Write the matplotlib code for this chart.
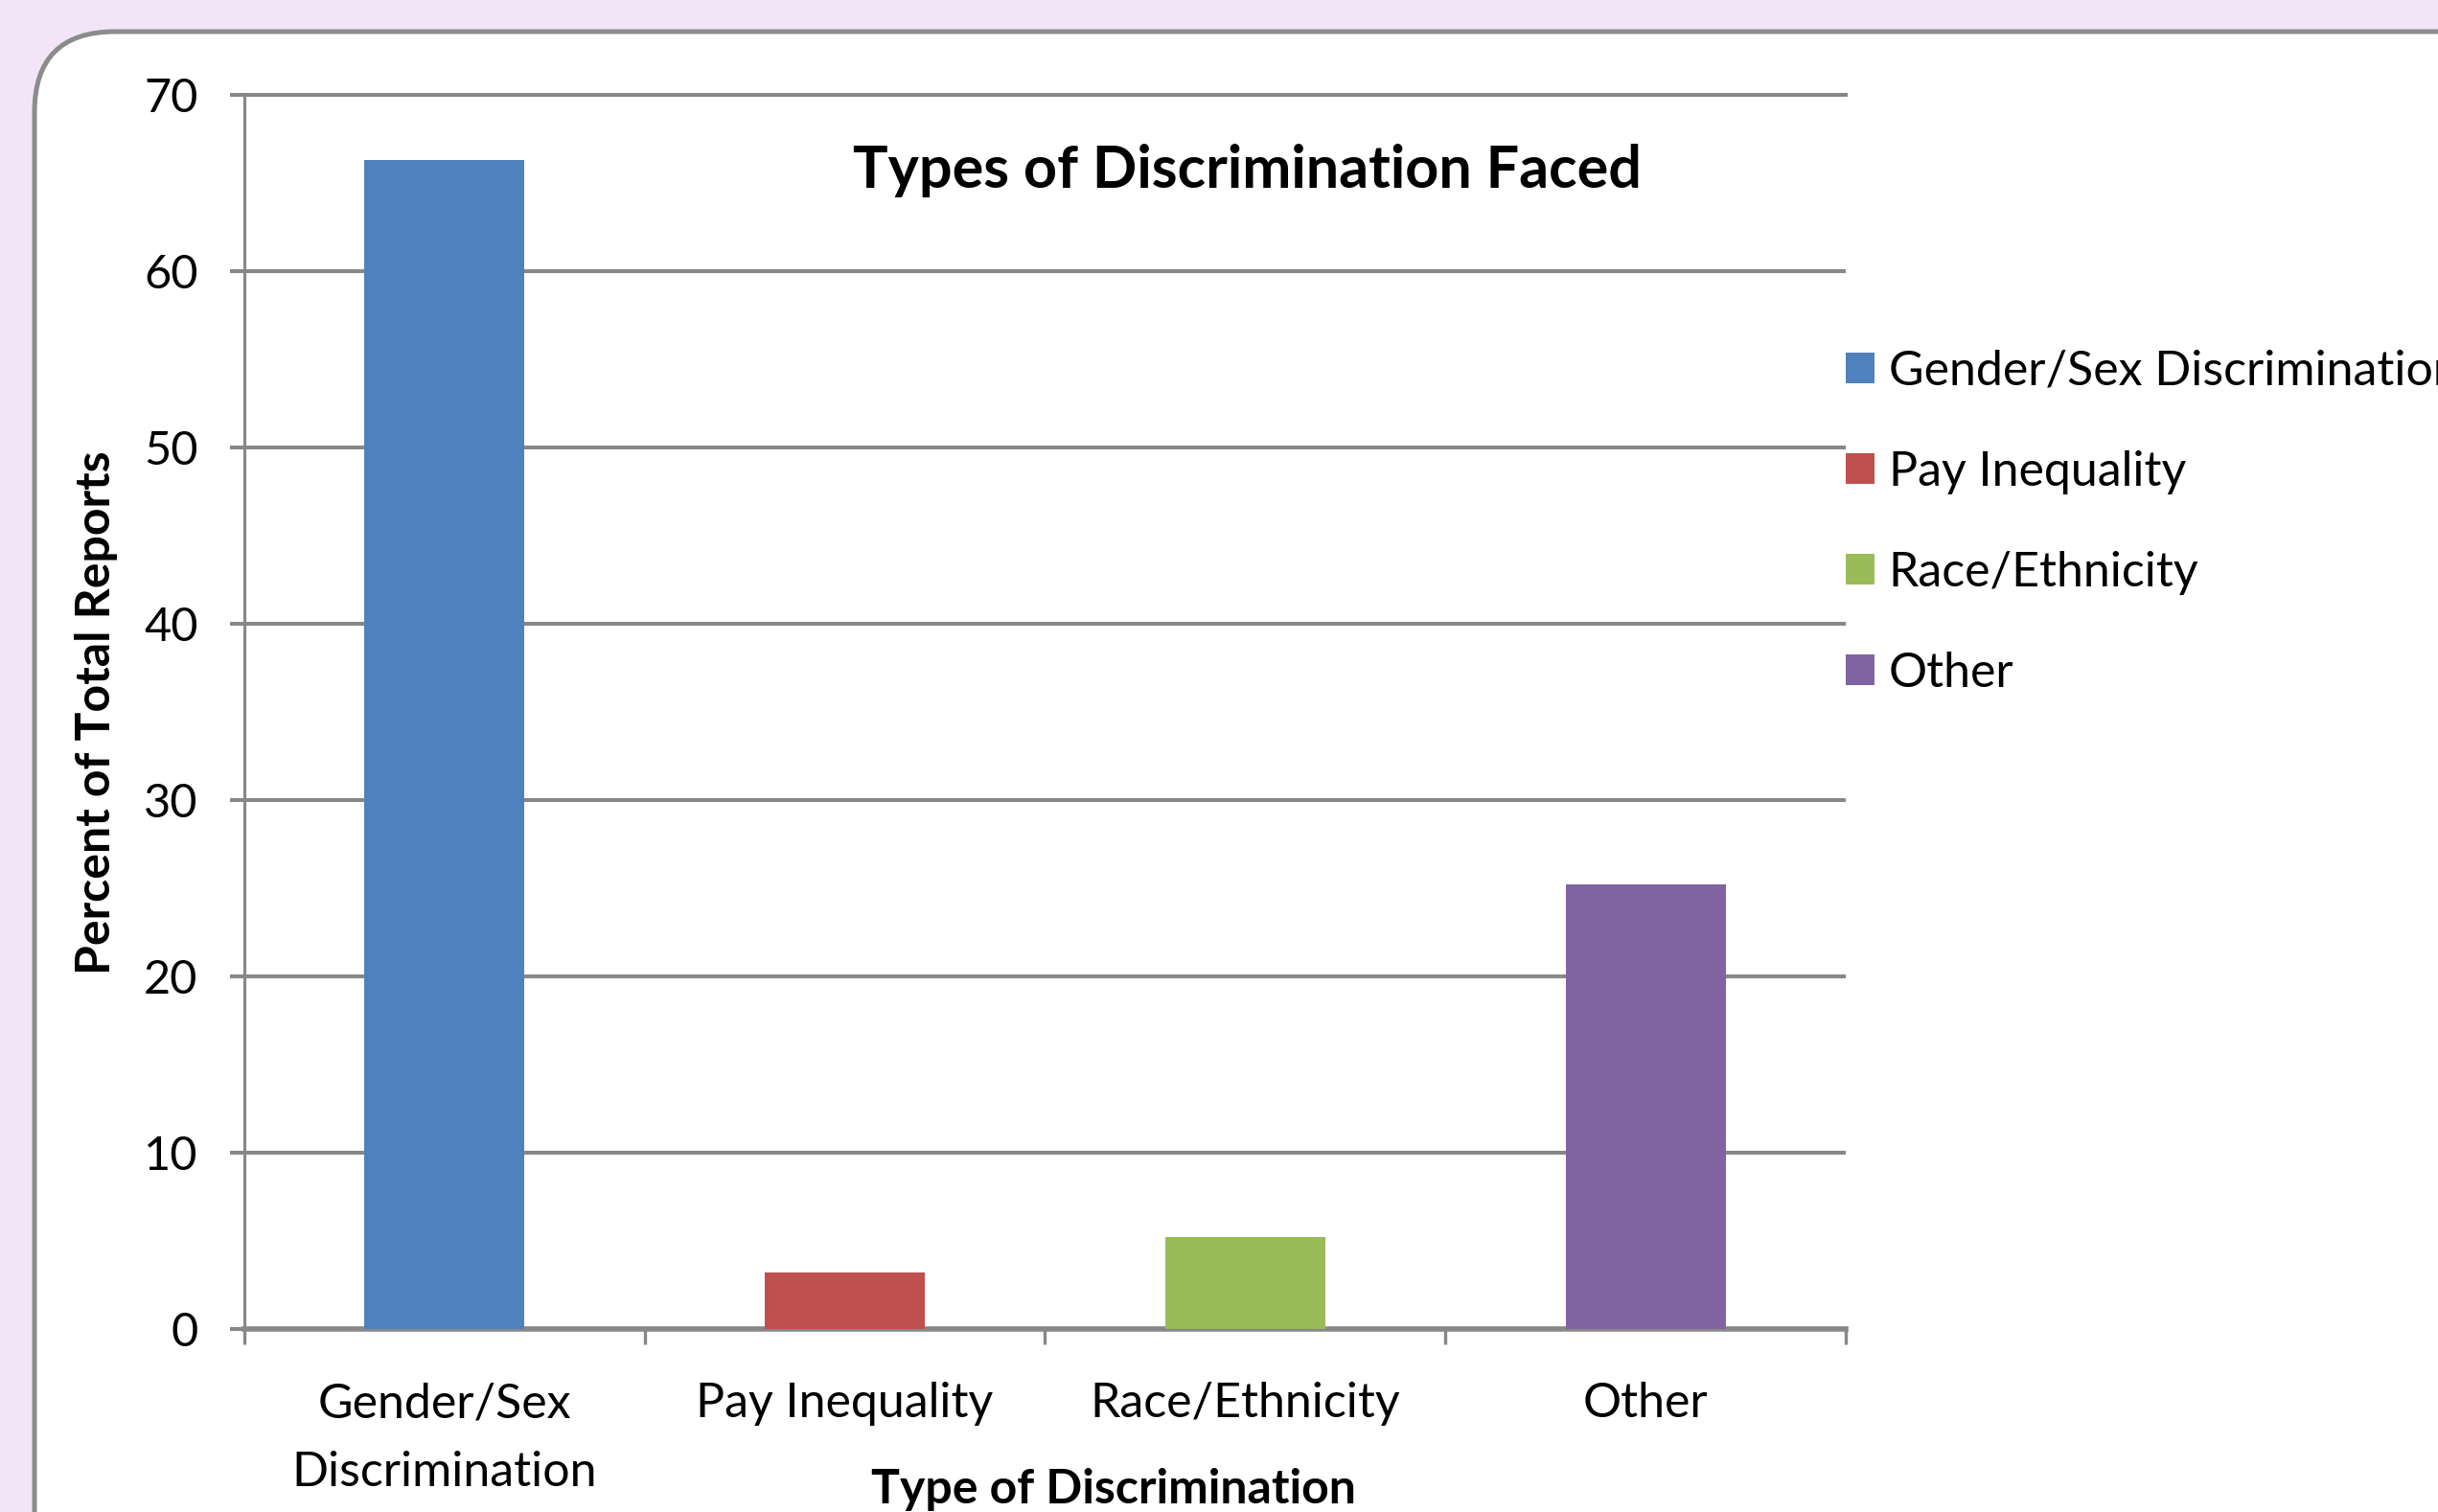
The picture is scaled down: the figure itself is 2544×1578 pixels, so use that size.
import numpy as np
import matplotlib
matplotlib.use('Agg')
import matplotlib.pyplot as plt
from matplotlib.patches import FancyBboxPatch

plt.rcParams['font.family'] = ['Lato', 'DejaVu Sans']

categories = ['Gender/Sex\nDiscrimination', 'Pay Inequality', 'Race/Ethnicity', 'Other']
legend_labels = ['Gender/Sex Discrimination', 'Pay Inequality', 'Race/Ethnicity', 'Other']
percents = [66.3, 3.2, 5.2, 25.2]
colors = ['#4F81BD', '#C0504D', '#9BBB59', '#8064A2']

fig = plt.figure(figsize=(12.72, 7.89), dpi=200)
fig.patch.set_facecolor('#F3E5F7')

# white rounded panel behind the chart
panel = FancyBboxPatch((0.18, -1.0), 14.0, 8.725, boxstyle='round,pad=0,rounding_size=0.42',
                       transform=fig.dpi_scale_trans, facecolor='white',
                       edgecolor='#8C8C8C', linewidth=1.8, zorder=-5)
fig.patches.append(panel)

ax = fig.add_axes([0.1001, 0.1213, 0.657, 0.816])
ax.set_zorder(2)
ax.set_facecolor('none')
grid_c = '#878787'

x = np.arange(len(categories))
bars = ax.bar(x, percents, width=0.4, color=colors, zorder=3)

ax.set_xlim(-0.5, 3.5)
ax.set_ylim(0, 70)
ax.set_yticks(np.arange(0, 71, 10))
ax.yaxis.grid(True, color=grid_c, linewidth=1.45, zorder=1)
ax.set_axisbelow(True)

ax.spines['right'].set_visible(False)
ax.spines['top'].set_color(grid_c)
ax.spines['top'].set_linewidth(1.45)
ax.spines['left'].set_color(grid_c)
ax.spines['left'].set_linewidth(1.1)
ax.spines['bottom'].set_color(grid_c)
ax.spines['bottom'].set_linewidth(2.0)

ax.tick_params(axis='y', direction='out', length=5.3, width=1.45, color=grid_c,
               labelsize=17.5, pad=12)
ax.set_xticks(x)
ax.set_xticklabels(categories, fontsize=18, linespacing=1.7)
ax.set_xticks(np.arange(-0.5, 4.0, 1.0), minor=True)
ax.tick_params(axis='x', which='major', length=0, pad=20)
ax.tick_params(axis='x', which='minor', direction='out', length=5.8, width=1.2, color=grid_c)

ax.text(0.5115, 0.887, 'Types of Discrimination Faced', transform=fig.transFigure,
        ha='center', va='center', fontsize=22, fontweight='bold')
fig.text(0.0395, 0.529, 'Percent of Total Reports', rotation=90, ha='center', va='center',
         fontsize=18, fontweight='bold')
fig.text(0.4566, 0.015, 'Type of Discrimination', ha='center', va='center',
         fontsize=18, fontweight='bold')

fig.legend(bars.patches, legend_labels, loc='upper left', bbox_to_anchor=(0.757, 0.769),
           frameon=False, fontsize=18, handlelength=0.6, handleheight=0.6,
           handletextpad=0.3, labelspacing=1.18, borderpad=0, borderaxespad=0)

fig.savefig('out.png', dpi=200, facecolor=fig.get_facecolor())
